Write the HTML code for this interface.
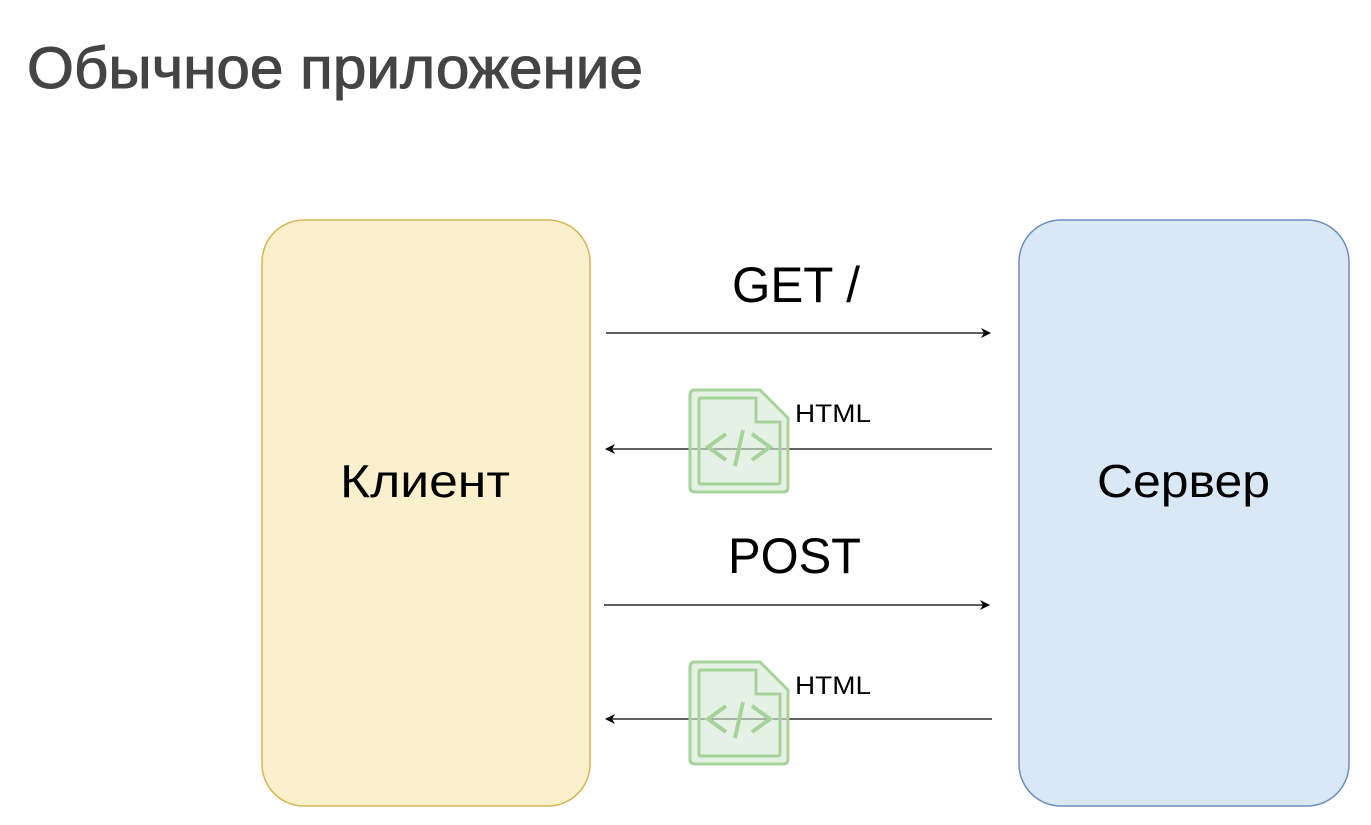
<!DOCTYPE html>
<html><head><meta charset="utf-8"><style>html,body{margin:0;padding:0;background:#fff;}svg{display:block}</style></head>
<body>
<svg width="1371" height="825" viewBox="0 0 1371 825" xmlns="http://www.w3.org/2000/svg" font-family="Liberation Sans, DejaVu Sans, sans-serif">
<defs>
<marker id="ar" markerWidth="10" markerHeight="10" refX="9" refY="5" orient="auto" markerUnits="userSpaceOnUse">
<path d="M0,0 L10,5 L0,10 L3,5 Z" fill="#000"/>
</marker>
<g id="icon">
<path d="M5,0 H70 L98,28 V97 Q98,102 93,102 H5 Q0,102 0,97 V5 Q0,0 5,0 Z" fill="rgba(213,232,212,0.6)" stroke="#a6d39a" stroke-width="3"/>
<path d="M11,8 H66 V32 H90 V92 Q90,94 88,94 H11 Q9,94 9,92 V10 Q9,8 11,8 Z" fill="none" stroke="#a6d39a" stroke-width="3"/>
<path d="M36,44 L18,57 L36,70" fill="none" stroke="#a6d39a" stroke-width="4"/>
<path d="M62,44 L80,57 L62,70" fill="none" stroke="#a6d39a" stroke-width="4"/>
<path d="M53,40 L45,76" stroke="#a6d39a" stroke-width="4"/>
</g>
</defs>
<text x="27" y="88" font-size="58" fill="#444" stroke="#444" stroke-width="1" textLength="616" lengthAdjust="spacingAndGlyphs">Обычное приложение</text>
<rect x="262" y="220" width="328" height="586" rx="42" fill="#fbf0cc" stroke="#d6b656" stroke-width="1.5"/>
<rect x="1019" y="220" width="330" height="586" rx="42" fill="#dae8f6" stroke="#6c8ebf" stroke-width="1.5"/>
<text x="340" y="497" font-size="46" fill="#000" textLength="170" lengthAdjust="spacingAndGlyphs">Клиент</text>
<text x="1097" y="497" font-size="46" fill="#000" textLength="173" lengthAdjust="spacingAndGlyphs">Сервер</text>
<text x="732" y="302" font-size="50" fill="#000" textLength="128" lengthAdjust="spacingAndGlyphs">GET /</text>
<text x="728" y="573" font-size="50" fill="#000" textLength="133" lengthAdjust="spacingAndGlyphs">POST</text>
<line x1="606" y1="333" x2="990" y2="333" stroke="#000" stroke-width="1.3" marker-end="url(#ar)"/>
<line x1="992" y1="449" x2="606" y2="449" stroke="#000" stroke-width="1.3" marker-end="url(#ar)"/>
<line x1="604" y1="605" x2="989" y2="605" stroke="#000" stroke-width="1.3" marker-end="url(#ar)"/>
<line x1="992" y1="719" x2="606" y2="719" stroke="#000" stroke-width="1.3" marker-end="url(#ar)"/>
<use href="#icon" x="690" y="390"/>
<use href="#icon" x="690" y="662"/>
<text x="795" y="422" font-size="25" fill="#000" textLength="76" lengthAdjust="spacingAndGlyphs">HTML</text>
<text x="795" y="694" font-size="25" fill="#000" textLength="76" lengthAdjust="spacingAndGlyphs">HTML</text>
</svg>
</body></html>
